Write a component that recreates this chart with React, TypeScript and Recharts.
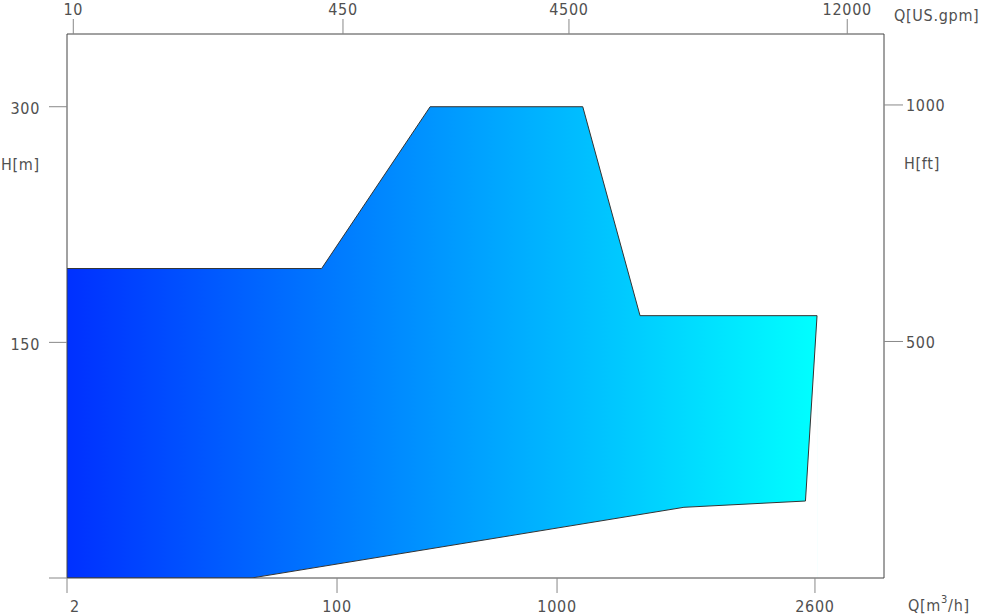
import React from "react"
import { ComposedChart, Area, XAxis, YAxis, Label } from "recharts"

// tick stops of the two flow axes
const flowStops = [2, 100, 1000, 2600] // Q [m3/h]
const gpmStops = [10, 450, 4500, 12000] // Q [US.gpm]
const headTicksM = [0, 150, 300]
const headTicksFt = [500, 1000]

// upper boundary of the operating range (Q m3/h, H m)
const upperQ = [2, 80, 265, 1100, 1360, 2620]
const upperH = [197, 197, 300, 300, 167, 167]

// lower boundary
const lowerQ = [2, 29, 1600, 2510, 2620]
const lowerH = [0, 0, 45, 49, 167]

// the drawing is not a plain log scale: each stop sits at its own % of the axis,
// log-interpolated in between
const flowStopPos = [0, 33.05, 59.98, 91.55]
const gpmStopPos = [0.77, 33.78, 61.44, 95.5]

const FONT = "'Liberation Sans Narrow', 'DejaVu Sans Condensed', sans-serif"
const TEXT = "#505050"

function piecewiseLog(stops: number[], pos: number[]) {
  const ls = stops.map((s) => Math.log10(s))
  return (v: number) => {
    const lv = Math.log10(v)
    let i = 0
    while (i < ls.length - 2 && lv > ls[i + 1]) i++
    const t = (lv - ls[i]) / (ls[i + 1] - ls[i])
    return pos[i] + t * (pos[i + 1] - pos[i])
  }
}

const flowPos = piecewiseLog(flowStops, flowStopPos)
const gpmPos = piecewiseLog(gpmStops, gpmStopPos)

const allQ = Array.from(new Set([...upperQ, ...lowerQ])).sort((a, b) => a - b)
const data = allQ.map((q) => {
  const iu = upperQ.indexOf(q)
  const il = lowerQ.indexOf(q)
  return {
    x: flowPos(q),
    upper: iu >= 0 ? upperH[iu] : null,
    lower: il >= 0 ? lowerH[il] : null,
  }
})

const textProps = { fontFamily: FONT, fontSize: 16, fill: TEXT, letterSpacing: 0.7 }

function BottomTick({ x, y, index }: any) {
  const first = index === 0
  return (
    <text {...textProps} x={first ? x + 3 : x} y={y + 13} textAnchor={first ? "start" : "middle"} dominantBaseline="central">
      {flowStops[index]}
    </text>
  )
}

function TopTick({ x, y, index }: any) {
  return (
    <text {...textProps} x={x} y={y - 10} textAnchor="middle" dominantBaseline="central">
      {gpmStops[index]}
    </text>
  )
}

function LeftTick({ x, y, payload }: any) {
  if (payload.value === 0) return null
  return (
    <text {...textProps} x={x} y={y + 2} textAnchor="end" dominantBaseline="central">
      {payload.value}
    </text>
  )
}

function RightTick({ x, y, payload }: any) {
  return (
    <text {...textProps} x={x} y={y + 1} textAnchor="start" dominantBaseline="central">
      {payload.value}
    </text>
  )
}

export default function App() {
  return (
    <div style={{ position: "absolute", left: 0, top: 0, width: 986, height: 616, background: "#fff" }}>
      <ComposedChart width={986} height={616} data={data} margin={{ top: 0, right: 0, bottom: 0, left: 0 }}>
        <defs>
          <linearGradient id="rangeFill" x1="0" y1="0" x2="1" y2="0">
            <stop offset="0%" stopColor="#0030ff" />
            <stop offset="100%" stopColor="#00ffff" />
          </linearGradient>
        </defs>
        <Area
          xAxisId="q"
          yAxisId="m"
          type="linear"
          dataKey="upper"
          stroke="#333"
          strokeWidth={1}
          fill="url(#rangeFill)"
          fillOpacity={1}
          connectNulls
          dot={false}
          activeDot={false}
          isAnimationActive={false}
        />
        <Area
          xAxisId="q"
          yAxisId="m"
          type="linear"
          dataKey="lower"
          stroke="#333"
          strokeWidth={1}
          fill="#fff"
          fillOpacity={1}
          connectNulls
          dot={false}
          activeDot={false}
          isAnimationActive={false}
        />
        <XAxis
          xAxisId="q"
          dataKey="x"
          type="number"
          domain={[0, 100]}
          allowDataOverflow
          ticks={flowStops.map(flowPos)}
          interval={0}
          height={38}
          axisLine={{ stroke: "#444" }}
          tickLine={{ stroke: "#888" }}
          tickSize={15}
          tickMargin={0}
          tick={<BottomTick />}
        >
          <Label
            content={({ viewBox }: any) => (
              <text {...textProps} x={viewBox.x + viewBox.width + 24} y={viewBox.y + 27} dominantBaseline="central">
                Q[m
                <tspan dy={-6} fontSize={11}>3</tspan>
                <tspan dy={6}>/h]</tspan>
              </text>
            )}
          />
        </XAxis>
        <XAxis
          xAxisId="gpm"
          orientation="top"
          dataKey="x"
          type="number"
          domain={[0, 100]}
          allowDataOverflow
          ticks={gpmStops.map(gpmPos)}
          interval={0}
          height={34}
          axisLine={{ stroke: "#444" }}
          tickLine={{ stroke: "#888" }}
          tickSize={15}
          tickMargin={0}
          tick={<TopTick />}
        >
          <Label
            content={({ viewBox }: any) => (
              <text {...textProps} x={viewBox.x + viewBox.width + 10} y={15} dominantBaseline="central">
                Q[US.gpm]
              </text>
            )}
          />
        </XAxis>
        <YAxis
          yAxisId="m"
          type="number"
          domain={[0, 346.3]}
          allowDataOverflow
          ticks={headTicksM}
          interval={0}
          width={67}
          axisLine={{ stroke: "#444" }}
          tickLine={{ stroke: "#888" }}
          tickSize={18}
          tickMargin={9}
          tick={<LeftTick />}
        >
          <Label
            content={({ viewBox }: any) => (
              <text {...textProps} x={1} y={viewBox.y + 130} dominantBaseline="central">
                H[m]
              </text>
            )}
          />
        </YAxis>
        <YAxis
          yAxisId="ft"
          orientation="right"
          type="number"
          domain={[0, 1150]}
          allowDataOverflow
          ticks={headTicksFt}
          interval={0}
          width={102}
          axisLine={{ stroke: "#444" }}
          tickLine={{ stroke: "#888" }}
          tickSize={19}
          tickMargin={3}
          tick={<RightTick />}
        >
          <Label
            content={({ viewBox }: any) => (
              <text {...textProps} x={viewBox.x + 20} y={viewBox.y + 129} dominantBaseline="central">
                H[ft]
              </text>
            )}
          />
        </YAxis>
      </ComposedChart>
    </div>
  )
}
